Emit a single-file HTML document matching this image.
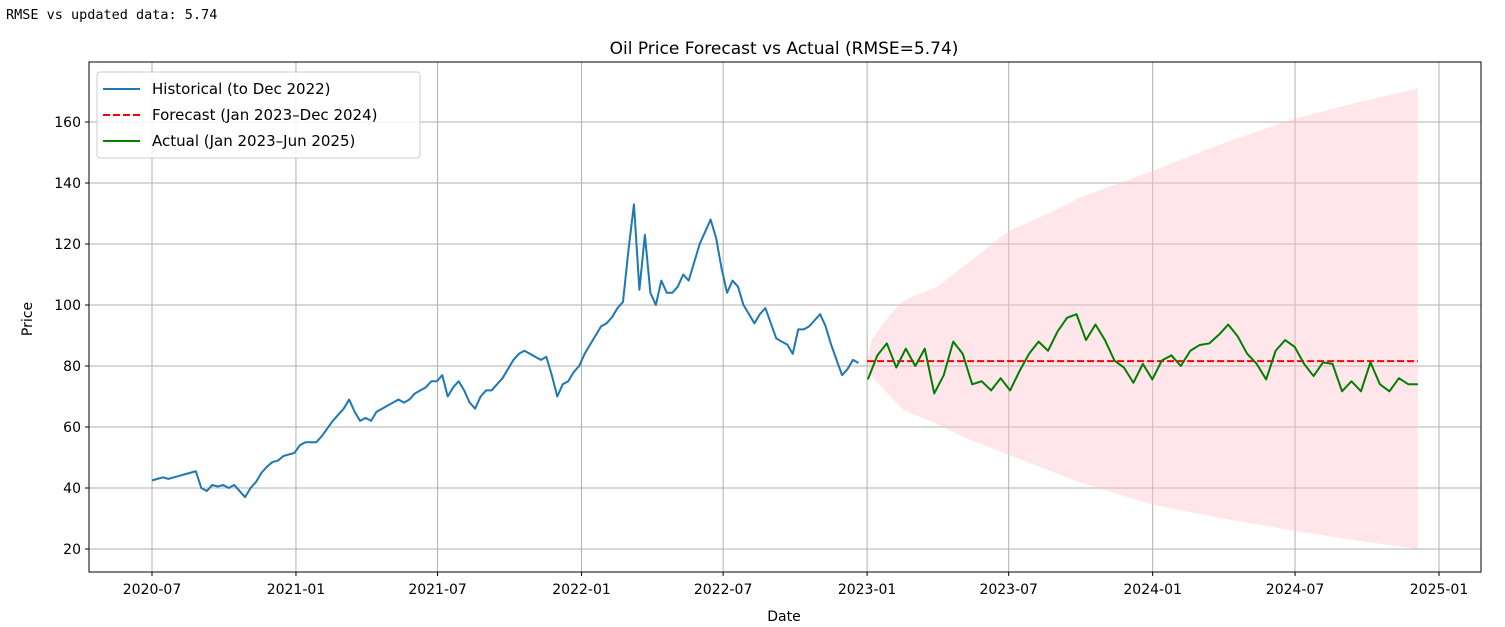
<!DOCTYPE html>
<html><head><meta charset="utf-8"><style>
body{margin:0;background:#fff;width:1505px;height:627px;overflow:hidden}
svg{display:block;font-family:"DejaVu Sans","Liberation Sans",sans-serif}
</style></head><body>
<svg id="chart" width="1505" height="627">
<text x="6" y="19" font-family="'DejaVu Sans Mono','Liberation Mono',monospace" font-size="13.5" fill="#000">RMSE vs updated data: 5.74</text>
<text x="784" y="54" text-anchor="middle" font-size="17">Oil Price Forecast vs Actual (RMSE=5.74)</text>
<text x="784" y="621" text-anchor="middle" font-size="14">Date</text>
<text transform="translate(32,319) rotate(-90)" text-anchor="middle" font-size="14">Price</text>
<g id="grid"></g><g id="band"></g><g id="series"></g><g id="ticks"></g>
<rect x="89" y="62" width="1392" height="510" fill="none" stroke="#000" stroke-width="1"/>
<g>
<rect x="97" y="72" width="323" height="86" rx="3" fill="#fff" fill-opacity="0.85" stroke="#ccc"/>
<g><line x1="103" y1="89" x2="140" y2="89" stroke="#1f77b4" stroke-width="2"/><text x="152" y="94" font-size="15">Historical (to Dec 2022)</text></g>
<g><line x1="103" y1="115" x2="140" y2="115" stroke="red" stroke-width="2" stroke-dasharray="7,3"/><text x="152" y="120" font-size="15">Forecast (Jan 2023–Dec 2024)</text></g>
<g><line x1="103" y1="141" x2="140" y2="141" stroke="green" stroke-width="2"/><text x="152" y="146" font-size="15">Actual (Jan 2023–Jun 2025)</text></g>
</g>
</svg>
<script>
const yTicks=[20,40,60,80,100,120,140,160];
const xTickLabels=["2020-07","2021-01","2021-07","2022-01","2022-07","2023-01","2023-07","2024-01","2024-07","2025-01"];
const histStart="2020-07-01";
const histValues=[42.5,43,43.5,43,43.5,44,44.5,45,45.5,40,39,41,40.5,41,40,41,39,37,40,42,45,47,48.5,49,50.5,51,
51.5,54,55,55,55,57,59.5,62,64,66,69,65,62,63,62,65,66,67,68,69,68,69,71,72,73,75,75,77,70,73,75,72,68,66,70,72,72,74,76,79,82,84,85,84,83,82,83,77,70,74,75,78,
80,84,87,90,93,94,96,99,101,118,133,105,123,104,100,108,104,104,106,110,108,114,120,124,128,122,112,104,108,106,100,97,94,97,99,94,89,88,87,84,92,92,93,95,97,93,87,82,77,79,82,81];
const actStart="2023-01-02";
const actEnd="2024-12-05";
const actValues=[75.6,83.5,87.4,79.5,85.7,80,85.7,71,77,88,84,74,75,72,76,72,78.4,84,88,85,91.3,95.8,97,88.5,93.6,88.5,81.8,79.5,74.5,80.7,75.6,81.8,83.5,80,85,86.9,87.4,90.2,93.6,89.7,84,80.7,75.6,85,88.5,86.3,80.7,76.7,81.2,80.7,71.7,75,71.7,81.2,74,71.7,76,74,74];
const fcDates=["2023-01-01","2024-12-05"];
const fcValues=[81.6,81.6];
const bandDays=[0,5,15,30,45,60,90,120,180,240,270,365,455,545,620,704];
const bandUpper=[82,88,92,97,101,103,106,112,124,131,135,144,153,161,166,171];
const bandLower=[82,77,74,70,66,64,61,57,51,45,42,34.5,30,26,23,20];
const bandStart="2023-01-01";

const NS="http://www.w3.org/2000/svg";
const L=89,R=1481,T=62,B=572;
const d0=Date.parse("2020-07-01"),pxPerDay=(1439-152)/((Date.parse("2025-01-01")-d0)/864e5);
const xs=ms=>152+(ms-d0)/864e5*pxPerDay;
const ys=v=>366-(v-80)*3.05;
const DAY=864e5;
function el(tag,attrs,parent){const e=document.createElementNS(NS,tag);for(const k in attrs)e.setAttribute(k,attrs[k]);parent.appendChild(e);return e;}
const grid=document.getElementById('grid'),ticks=document.getElementById('ticks'),band=document.getElementById('band'),series=document.getElementById('series');
yTicks.forEach(v=>{const y=ys(v);
 const g=el('line',{x1:L,x2:R,y1:y,y2:y,stroke:'#b0b0b0','stroke-width':1},grid);
 
 
 el('line',{x1:L-4,x2:L,y1:y,y2:y,stroke:'#000'},ticks);
 const tx=el('text',{x:L-8,y:y+5,'text-anchor':'end','font-size':14},ticks);tx.textContent=v;
 
 
});
xTickLabels.forEach(s=>{const x=xs(Date.parse(s+"-01"));
 const g=el('line',{x1:x,x2:x,y1:T,y2:B,stroke:'#b0b0b0','stroke-width':1},grid);
 
 
 el('line',{x1:x,x2:x,y1:B,y2:B+4,stroke:'#000'},ticks);
 const tx=el('text',{x:x,y:B+22,'text-anchor':'middle','font-size':14},ticks);tx.textContent=s;
 
 
});
const bs=Date.parse(bandStart);
let pts=bandDays.map((d,i)=>xs(bs+d*DAY)+','+ys(bandUpper[i]));
pts=pts.concat(bandDays.map((d,i)=>xs(bs+d*DAY)+','+ys(bandLower[i])).reverse());
const bp=el('polygon',{points:pts.join(' '),fill:'pink','fill-opacity':0.4,'stroke-linejoin':'round'},band);


const hs=Date.parse(histStart);
const hl=el('polyline',{points:histValues.map((v,i)=>xs(hs+i*7*DAY)+','+ys(v)).join(' '),fill:'none',stroke:'#1f77b4','stroke-width':2,'stroke-linejoin':'round'},series);


const fl=el('polyline',{points:fcDates.map((d,i)=>xs(Date.parse(d))+','+ys(fcValues[i])).join(' '),fill:'none',stroke:'red','stroke-width':2,'stroke-dasharray':'7,3'},series);


const as=Date.parse(actStart),ae=Date.parse(actEnd),step=(ae-as)/(actValues.length-1);
const al=el('polyline',{points:actValues.map((v,i)=>xs(as+i*step)+','+ys(v)).join(' '),fill:'none',stroke:'green','stroke-width':2,'stroke-linejoin':'round'},series);


</script>
</body></html>
